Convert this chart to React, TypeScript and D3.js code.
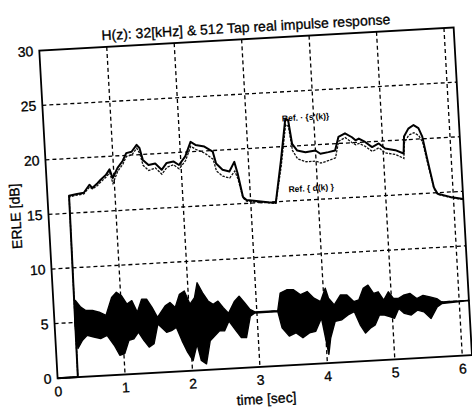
import React from "react";
import * as d3 from "d3";

const TITLE = "H(z): 32[kHz] & 512 Tap real impulse response";
const X_LABEL = "time [sec]";
const Y_LABEL = "ERLE [dB]";
const X_TICKS = [0, 1, 2, 3, 4, 5, 6];
const Y_TICKS = [0, 5, 10, 15, 20, 25, 30];
const X_MAX = 6.144;
const Y_MAX = 30;

// ERLE curves (time in sec, ERLE in dB)
const ERLE_T = [0, 0.3, 0.32, 0.42, 0.54, 0.63, 0.67, 0.75, 0.8, 0.88, 0.94, 0.98, 1.06, 1.14, 1.2, 1.28, 1.36, 1.4, 1.44, 1.52, 1.62, 1.71, 1.79, 1.89, 1.97, 2.07, 2.16, 2.23, 2.36, 2.48, 2.52, 2.61, 2.71, 2.79, 2.83, 2.89, 2.94, 3.05, 3.15, 3.25, 3.37, 3.48, 3.58, 3.62, 3.66, 3.73, 3.85, 4.0, 4.07, 4.19, 4.29, 4.35, 4.45, 4.55, 4.6, 4.65, 4.74, 4.84, 4.94, 5.03, 5.18, 5.3, 5.32, 5.39, 5.47, 5.54, 5.59, 5.64, 5.72, 5.77, 5.98, 6.144];
const ERLE_SOLID = [0, 0, 16.6, 16.7, 16.8, 17.5, 17.2, 17.6, 17.9, 18.3, 18.8, 18.0, 18.9, 19.5, 20.2, 20.3, 20.9, 20.6, 19.5, 19.0, 19.1, 18.5, 19.1, 19.2, 18.85, 19.6, 20.9, 20.6, 20.4, 19.9, 18.8, 18.2, 18.0, 18.85, 17.8, 15.6, 15.3, 15.2, 15.1, 15.0, 14.9, 18.7, 22.55, 22.4, 20.2, 19.56, 19.37, 19.48, 19.15, 19.26, 19.38, 20.6, 20.9, 20.5, 20.2, 20.35, 20.0, 19.5, 19.8, 19.3, 19.1, 18.75, 20.3, 21.0, 21.3, 21.0, 20.2, 18.3, 15.5, 14.9, 14.5, 14.3];
const ERLE_DOTTED = [0, 0, 16.5, 16.6, 16.7, 17.3, 17.1, 17.4, 17.7, 18.1, 18.5, 17.5, 18.6, 19.2, 19.9, 20.0, 20.6, 20.1, 19.0, 18.5, 18.7, 18.1, 18.7, 18.9, 18.5, 19.2, 20.5, 20.2, 19.8, 19.2, 18.1, 17.6, 17.4, 18.0, 17.3, 15.5, 15.2, 15.1, 15.0, 14.95, 14.85, 18.2, 22.0, 21.8, 19.6, 18.8, 18.5, 18.5, 18.3, 18.5, 18.7, 20.2, 20.5, 20.0, 19.8, 19.9, 19.6, 19.1, 19.4, 18.9, 18.7, 18.3, 19.7, 20.4, 20.6, 20.3, 19.7, 18.0, 15.4, 14.85, 14.45, 14.25];

// speech waveform envelope (drawn around 5 dB)
const SPEECH_CENTER = 5;
const SPEECH_T = [0.3, 0.326, 0.4, 0.473, 0.571, 0.669, 0.767, 0.865, 0.939, 1.013, 1.086, 1.16, 1.233, 1.307, 1.38, 1.454, 1.527, 1.65, 1.723, 1.797, 1.87, 1.944, 2.018, 2.09, 2.14, 2.213, 2.287, 2.36, 2.434, 2.507, 2.58, 2.679, 2.75, 2.826, 2.9, 2.97, 3.31, 3.36, 3.46, 3.56, 3.66, 3.76, 3.855, 3.95, 4.03, 4.07, 4.15, 4.25, 4.345, 4.44, 4.517, 4.59, 4.664, 4.74, 4.81, 4.885, 4.96, 5.03, 5.1, 5.18, 5.28, 5.375, 5.47, 5.57, 5.67, 5.74, 6.144];
const SPEECH_UP = [0, 2.0, 1.37, 1.04, 1.0, 0.82, 0.48, 2.1, 2.54, 2.2, 1.42, 1.7, 0.61, 1.79, 1.77, 0.98, 0.05, 1.06, 1.34, 0.85, 2.04, 2.32, 1.08, 1.65, 3.0, 2.06, 1.28, 0.95, 1.22, 0.59, 0.05, 1.13, 1.56, 0.93, 0.3, 0.05, 0.05, 1.64, 1.9, 1.87, 1.38, 1.64, 1.0, 0.66, 1.85, 0.92, 0.28, 1.16, 1.12, 0.48, 0.6, 1.64, 1.91, 1.13, 1.25, 0.47, 1.2, 0.56, 0.54, 0.81, 0.93, 0.44, 0.7, 0.52, 0.33, 0.0, 0];
const SPEECH_DN = [0, 2.39, 1.66, 1.23, 1.42, 1.6, 1.34, 2.28, 3.22, 3.1, 1.91, 1.79, 1.21, 1.99, 2.63, 2.35, 0.56, 1.36, 1.24, 0.96, 2.2, 3.29, 4.08, 2.59, 4.12, 4.45, 2.36, 1.93, 1.5, 1.53, 0.65, 1.59, 2.23, 2.25, 0.31, 0.05, 0.05, 1.55, 2.34, 2.07, 2.56, 2.15, 2.03, 0.85, 4.2, 2.72, 1.23, 1.12, 0.7, 0.43, 1.67, 2.45, 2.03, 1.75, 0.87, 0.9, 1.08, 1.25, 0.37, 0.85, 1.04, 0.62, 0.81, 1.45, 0.43, 0.15, 0];

const LABEL_1 = "Ref. · {s'(k)}";
const LABEL_1_POS = [3.53, 22.3];
const LABEL_2 = "Ref.  { d(k) }";
const LABEL_2_POS = [3.57, 15.8];

export default function App() {
  const W = 415;
  const H = 328;
  const x = d3.scaleLinear().domain([0, X_MAX]).range([0, W]);
  const y = d3.scaleLinear().domain([0, Y_MAX]).range([H, 0]);

  const line = d3
    .line<number>()
    .x((_, i) => x(ERLE_T[i]))
    .y((d) => y(d));

  const area = d3
    .area<number>()
    .x((t) => x(t))
    .y0((_, i) => y(SPEECH_CENTER - SPEECH_DN[i]))
    .y1((_, i) => y(SPEECH_CENTER + SPEECH_UP[i]));

  const font = "'Liberation Sans', Arial, Helvetica, sans-serif";
  const txt = { fill: "#000", stroke: "#000", strokeWidth: 0.3 };

  return (
    <svg
      width={472}
      height={408}
      style={{ position: "absolute", left: 0, top: 0, background: "#fff" }}
      fontFamily={font}
    >
      <rect width={472} height={408} fill="#fff" />
      <g transform="translate(39.3,50.7) rotate(-3.2)">
        {/* grid */}
        {X_TICKS.filter((t) => t > 0).map((t) => (
          <line key={"gx" + t} x1={x(t)} x2={x(t)} y1={0} y2={H} stroke="#000" strokeWidth={1.3} strokeDasharray="4,3" />
        ))}
        {Y_TICKS.filter((v) => v > 0 && v < Y_MAX).map((v) => (
          <line key={"gy" + v} x1={0} x2={W} y1={y(v)} y2={y(v)} stroke="#000" strokeWidth={1.3} strokeDasharray="4,3" />
        ))}
        {/* speech */}
        <path d={area(SPEECH_T) || ""} fill="#000" stroke="#000" strokeWidth={1.4} strokeLinejoin="round" />
        {/* ERLE curves */}
        <path d={line(ERLE_DOTTED) || ""} fill="none" stroke="#111" strokeWidth={1.3} strokeDasharray="2.5,1.2" />
        <path d={line(ERLE_SOLID) || ""} fill="none" stroke="#000" strokeWidth={2} strokeLinejoin="round" />
        {/* box */}
        <rect x={0} y={0} width={W} height={H} fill="none" stroke="#000" strokeWidth={1.8} />
        {/* labels in plot */}
        <text x={x(LABEL_1_POS[0])} y={y(LABEL_1_POS[1])} fontSize={8.5} fontWeight="bold" fill="#000">{LABEL_1}</text>
        <text x={x(LABEL_2_POS[0])} y={y(LABEL_2_POS[1])} fontSize={8.5} fontWeight="bold" fill="#000">{LABEL_2}</text>
        {/* tick labels */}
        {X_TICKS.map((t) => (
          <text key={"xt" + t} x={x(t)} y={H + 18} fontSize={14} textAnchor="middle" {...txt}>{t}</text>
        ))}
        {Y_TICKS.map((v) => (
          <text key={"yt" + v} x={-6} y={y(v)} dy="0.36em" fontSize={14} textAnchor="end" {...txt}>{v}</text>
        ))}
        <text x={W / 2} y={-7} fontSize={14} textAnchor="middle" {...txt}>{TITLE}</text>
        <text x={W / 2} y={H + 37} fontSize={14} textAnchor="middle" {...txt}>{X_LABEL}</text>
        <text transform={`translate(-28,${H / 2}) rotate(-90)`} fontSize={14} textAnchor="middle" {...txt}>{Y_LABEL}</text>
      </g>
    </svg>
  );
}
